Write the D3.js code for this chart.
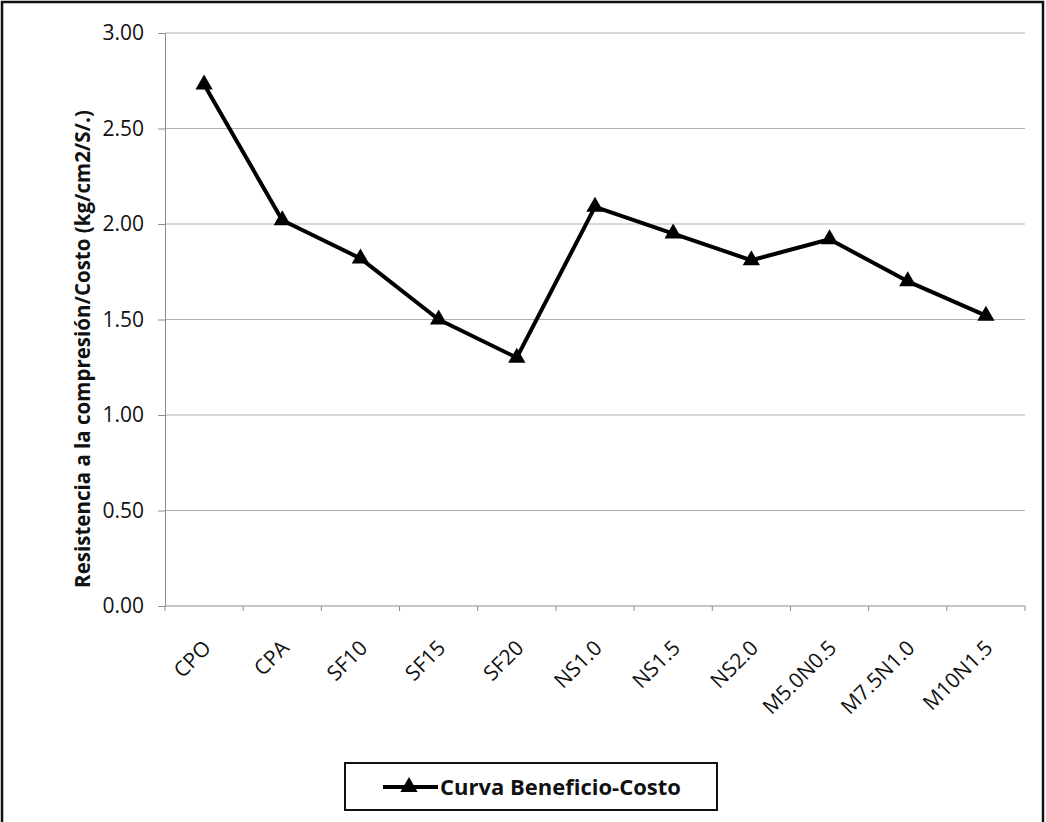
<!DOCTYPE html>
<html>
<head>
<meta charset="utf-8">
<script src="https://cdn.jsdelivr.net/npm/d3@7"></script>
<style>
  body { margin: 0; background: #fff; }
  svg { display: block; }
  .grid line { stroke: #b0b0b0; stroke-width: 1px; }
  .axis path, .axis line { stroke: #8c8c8c; }
  .axis text { font-family: "Open Sans", sans-serif; font-size: 21px; fill: #111; }
</style>
</head>
<body>
<svg id="chart" width="1046" height="822"></svg>
<script>
const categories = ["CPO", "CPA", "SF10", "SF15", "SF20", "NS1.0", "NS1.5", "NS2.0", "M5.0N0.5", "M7.5N1.0", "M10N1.5"];
const values = [2.73, 2.02, 1.82, 1.50, 1.30, 2.09, 1.95, 1.81, 1.92, 1.70, 1.52];
const yTicks = [0, 0.5, 1, 1.5, 2, 2.5, 3];
const seriesName = "Curva Beneficio-Costo";
const yTitle = "Resistencia a la compresión/Costo (kg/cm2/S/.)";

const svg = d3.select("#chart");
const plotLeft = 165, plotRight = 1025, plotTop = 33, plotBottom = 606;

// outer frame
svg.append("rect")
  .attr("x", 2).attr("y", 2)
  .attr("width", 1041).attr("height", 830)
  .attr("fill", "none").attr("stroke", "#111").attr("stroke-width", 2.5);

const x = d3.scaleBand().domain(categories).range([plotLeft, plotRight]);
const y = d3.scaleLinear().domain([0, 3]).range([plotBottom, plotTop]);

// gridlines
svg.append("g").attr("class", "grid")
  .selectAll("line")
  .data(yTicks.slice(1))
  .enter()
  .append("line")
  .attr("x1", plotLeft).attr("x2", plotRight)
  .attr("y1", d => y(d)).attr("y2", d => y(d));

// y axis
svg.append("g")
  .attr("class", "axis")
  .attr("transform", `translate(${plotLeft},0)`)
  .call(d3.axisLeft(y).tickValues(yTicks).tickFormat(d3.format(".2f")).tickSize(7).tickPadding(14));

// x axis, ticks between categories
const xAxis = svg.append("g")
  .attr("class", "axis")
  .attr("transform", `translate(0,${plotBottom})`);
xAxis.append("line")
  .attr("x1", plotLeft).attr("x2", plotRight).attr("stroke", "#8c8c8c");
xAxis.selectAll(".tk")
  .data(categories.concat([null]))
  .enter()
  .append("line")
  .attr("class", "tk")
  .attr("x1", (d, i) => plotLeft + i * x.bandwidth())
  .attr("x2", (d, i) => plotLeft + i * x.bandwidth())
  .attr("y1", 0).attr("y2", 5);
xAxis.selectAll("text")
  .data(categories)
  .enter()
  .append("text")
  .attr("transform", d => `translate(${x(d) + x.bandwidth() / 2 + 3},${38}) rotate(-45)`)
  .attr("text-anchor", "end")
  .attr("dy", "0.35em")
  .style("font-size", "21px")
  .text(d => d);

// y title
svg.append("text")
  .attr("transform", `translate(90,349) rotate(-90)`)
  .attr("text-anchor", "middle")
  .style("font-family", "'Open Sans', sans-serif")
  .style("font-size", "20.5px")
  .style("font-weight", "bold")
  .attr("fill", "#111")
  .text(yTitle);

// line
const line = d3.line()
  .x((d, i) => x(categories[i]) + x.bandwidth() / 2)
  .y(d => y(d));

svg.append("path")
  .datum(values)
  .attr("d", line)
  .attr("fill", "none")
  .attr("stroke", "#000")
  .attr("stroke-width", 4)
  .attr("stroke-linejoin", "round");

const tri = d3.symbol().type(d3.symbolTriangle).size(130);
svg.selectAll(".pt")
  .data(values)
  .enter()
  .append("path")
  .attr("class", "pt")
  .attr("d", tri)
  .attr("transform", (d, i) => `translate(${x(categories[i]) + x.bandwidth() / 2},${y(d)})`)
  .attr("fill", "#000");

// legend
const lg = svg.append("g").attr("transform", "translate(345,763)");
lg.append("rect")
  .attr("width", 372).attr("height", 47)
  .attr("fill", "#fff").attr("stroke", "#111").attr("stroke-width", 2);
lg.append("line")
  .attr("x1", 38).attr("x2", 93).attr("y1", 24).attr("y2", 24)
  .attr("stroke", "#000").attr("stroke-width", 4);
lg.append("path").attr("d", tri).attr("transform", "translate(64,24)").attr("fill", "#000");
lg.append("text")
  .attr("x", 95).attr("y", 24).attr("dy", "0.35em")
  .style("font-family", "'Open Sans', sans-serif")
  .style("font-size", "22px")
  .style("font-weight", "bold")
  .attr("fill", "#111")
  .text(seriesName);
</script>
</body>
</html>
